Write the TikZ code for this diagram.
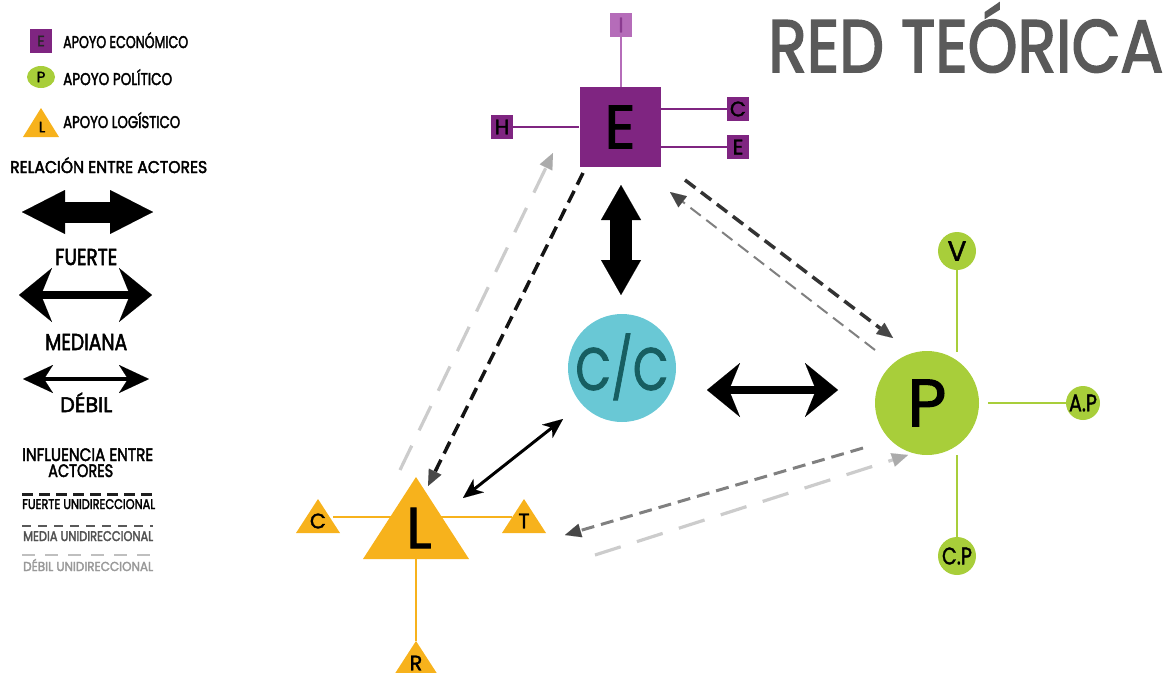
\documentclass[tikz,border=0pt]{standalone}
\usepackage{fontspec}
\usepackage{graphicx}
\setmainfont{Poppins}
\newfontfamily\wmed{Poppins}[FakeBold=1.6]
\newfontfamily\wheavy{Poppins}[FakeBold=2.6]
\usetikzlibrary{arrows.meta,shapes.geometric}

\definecolor{purE}{HTML}{7F2581}
\definecolor{purI}{HTML}{B56CB9}
\definecolor{purT}{HTML}{8A3B90}
\definecolor{cyanC}{HTML}{69C8D5}
\definecolor{tealC}{HTML}{175E61}
\definecolor{grnP}{HTML}{A8CE3A}
\definecolor{orgL}{HTML}{F7B21C}
\definecolor{titleg}{HTML}{5A5A5A}

\newcommand\fs[1]{\fontsize{#1}{#1}\selectfont}
\newcommand\fitw[2]{\resizebox{#1}{\height}{#2}}

\begin{document}
\begin{tikzpicture}[x=1pt,y=-1pt,
  txt/.style={inner sep=0pt, anchor=base west},
  bigsq/.style={fill=purE, minimum width=81pt, minimum height=80pt, inner sep=0pt},
  smsq/.style={fill=purE, minimum width=22pt, minimum height=24pt, inner sep=0pt, font=\wmed\fs{21}},
  smgc/.style={circle, fill=grnP, minimum size=36pt, inner sep=0pt},
  pline/.style={purE, line width=2.5pt},
  gline/.style={grnP, line width=2.5pt},
  oline/.style={orgL, line width=2.5pt},
  fuerte/.style={line width=#1, {Triangle[length=35pt,width=40pt,line width=0.01pt]}-{Triangle[length=35pt,width=40pt,line width=0.01pt]}},
  mediana/.style={line width=8pt, {Stealth[length=33pt,width=54pt,inset=11pt,line width=0.01pt]}-{Stealth[length=33pt,width=54pt,inset=11pt,line width=0.01pt]}},
  debilL/.style={line width=4pt, {Stealth[length=30pt,width=28pt,inset=9pt,line width=0.01pt]}-{Stealth[length=30pt,width=28pt,inset=9pt,line width=0.01pt]}},
  debil/.style={line width=3pt, {Stealth[length=20pt,width=17pt,inset=6pt,line width=0.01pt]}-{Stealth[length=20pt,width=17pt,inset=6pt,line width=0.01pt]}},
  strongd/.style={line width=3.5pt, dash pattern=on 13pt off 7pt, -{Triangle[length=16pt,width=14pt,line width=0.01pt,color=black!72]}},
  mediumd/.style={line width=#1, black!50, dash pattern=on 13pt off 7pt, -{Triangle[length=16pt,width=14pt,line width=0.01pt,color=black!72]}},
  weakd/.style={line width=3.2pt, black!20, dash pattern=on 27pt off 17pt, -{Triangle[length=16pt,width=14pt,line width=0.01pt,color=black!33]}},
  lgfont/.style={font=\wheavy\fs{#1}}
]
\useasboundingbox (0,0) rectangle (1167,672);

% ---------- title ----------
\node[txt, text=titleg, font=\wheavy\fs{74}] (title) at (768,72) {\fitw{395pt}{RED TEÓRICA}};

% ---------- legend: actors ----------
\node[smsq, minimum height=24pt, font=\wmed\fs{15}, text=black!85] (lgE) at (41,41) {E};
\node[txt, lgfont=17] (lgEt) at (63,48) {\fitw{125pt}{APOYO ECONÓMICO}};
\node[ellipse, fill=grnP, minimum width=28pt, minimum height=22pt, inner sep=0pt, font=\wmed\fs{15}] (lgP) at (41,77) {P};
\node[txt, lgfont=17] (lgPt) at (63,85) {\fitw{109pt}{APOYO POLÍTICO}};
\fill[orgL] (41,108) -- (59,137) -- (23,137) -- cycle;
\node[inner sep=0pt, font=\wmed\fs{15}] (lgL) at (42,127) {L};
\node[txt, lgfont=17] (lgLt) at (63,128) {\fitw{117pt}{APOYO LOGÍSTICO}};

% ---------- legend: relations ----------
\node[txt, lgfont=17] (relT) at (10,173) {\fitw{197pt}{RELACIÓN ENTRE ACTORES}};
\coordinate (f1) at (22,212);  \coordinate (f2) at (153,212);
\draw[line width=21pt, {Triangle[length=43pt,width=44pt,line width=0.01pt]}-{Triangle[length=43pt,width=44pt,line width=0.01pt]}] (f1) -- (f2);
\node[txt, lgfont=23] (fuT) at (55,265) {\fitw{62pt}{FUERTE}};
\coordinate (m1) at (19,295);  \coordinate (m2) at (152,295);
\draw[mediana] (m1) -- (m2);
\node[txt, lgfont=23] (meT) at (45,350) {\fitw{82pt}{MEDIANA}};
\coordinate (d1) at (23,379);  \coordinate (d2) at (149,379);
\draw[debilL] (d1) -- (d2);
\node[txt, lgfont=21] (deT) at (60,412) {\fitw{52pt}{DÉBIL}};

% ---------- legend: influences ----------
\node[txt, lgfont=18] (inT1) at (22,461) {\fitw{131pt}{INFLUENCIA ENTRE}};
\node[txt, lgfont=18] (inT2) at (48,477) {\fitw{65pt}{ACTORES}};
\coordinate (s1) at (22,494); \coordinate (s2) at (153,494);
\draw[line width=3pt, black!88, dash pattern=on 11pt off 6pt] (s1) -- (s2);
\node[txt, lgfont=14] (stT) at (22,509) {\fitw{133pt}{FUERTE UNIDIRECCIONAL}};
\coordinate (md1) at (22,526); \coordinate (md2) at (153,526);
\draw[line width=1.6pt, black!65, dash pattern=on 9pt off 7pt] (md1) -- (md2);
\node[txt, lgfont=14, text=black!68] (mdT) at (23,541) {\fitw{130pt}{MEDIA UNIDIRECCIONAL}};
\coordinate (w1) at (22,555); \coordinate (w2) at (153,555);
\draw[line width=1.6pt, black!25, dash pattern=on 13pt off 10pt] (w1) -- (w2);
\node[txt, lgfont=13, text=black!40] (wkT) at (23,571) {\fitw{130pt}{DÉBIL UNIDIRECCIONAL}};

% ---------- economic actor E ----------
\node[smsq, fill=purI, text=purT] (I) at (621,25) {I};
\node[smsq, text=black] (H) at (502,127) {H};
\node[smsq, text=black] (Ec) at (738,109) {C};
\node[smsq, text=black] (Ee) at (738,147) {E};
\node[bigsq, font=\wmed\fs{61}] (E) at (620,127) {E};
\draw[purI, line width=2.5pt] (I) -- (I |- E.north);
\draw[pline] (H) -- (H -| E.west);
\draw[pline] (Ec) -- (Ec -| E.east);
\draw[pline] (Ee) -- (Ee -| E.east);

% ---------- central actor C/C ----------
\node[circle, fill=cyanC, minimum size=108pt, inner sep=0pt] (CC) at (622,368) {};
\node[inner sep=0pt, anchor=base, text=tealC, font=\wmed\fs{60}] (CCt) at (622,390) {\fitw{93pt}{C/C}};

% ---------- political actor P ----------
\node[circle, fill=grnP, minimum size=104pt, inner sep=0pt, font=\wmed\fs{67}] (P) at (927,403) {P};
\node[smgc, minimum size=38pt, font=\wmed\fs{28}] (V) at (957,251) {V};
\node[smgc, minimum size=34pt, font=\wmed\fs{24}] (AP) at (1083,403) {\fitw{28pt}{A.P}};
\node[smgc, minimum size=38pt, font=\wmed\fs{24}] (CP) at (957,556) {\fitw{30pt}{C.P}};
\coordinate (Pt) at (957,352);
\coordinate (Pb) at (957,455);
\coordinate (Pr) at (988,403);
\draw[gline] (V) -- (Pt);
\draw[gline] (Pb) -- (CP);
\draw[gline] (Pr) -- (AP);

% ---------- logistic actor L ----------
\coordinate (Lw) at (333,517); \coordinate (Le) at (512,517);
\coordinate (Lb) at (416,559); \coordinate (Ls) at (416,641);
\draw[oline] (Lw) -- (Le);
\draw[oline] (Lb) -- (Ls);
\fill[orgL] (416,477) -- (469,559) -- (363,559) -- cycle;
\fill[orgL] (318,499) -- (340,533) -- (296,533) -- cycle;
\fill[orgL] (524,499) -- (546,533) -- (502,533) -- cycle;
\fill[orgL] (416,641) -- (438,675) -- (394,675) -- cycle;
\node[inner sep=0pt, font=\wmed\fs{58}] (L) at (419,528) {L};
\node[inner sep=0pt, font=\wmed\fs{21}] (Lc) at (318,521) {C};
\node[inner sep=0pt, font=\wmed\fs{21}] (Lt) at (524,521) {T};
\node[inner sep=0pt, font=\wmed\fs{21}] (Lr) at (416,663) {R};

% ---------- relations ----------
\coordinate (eR1) at (621,185); \coordinate (eR2) at (621,295);
\draw[fuerte=22pt] (eR1) -- (eR2);
\coordinate (cR1) at (707,390); \coordinate (cR2) at (838,390);
\draw[mediana] (cR1) -- (cR2);
\coordinate (lR1) at (463,498); \coordinate (lR2) at (563,419);
\draw[debil] (lR1) -- (lR2);

% ---------- influences ----------
\coordinate (eL1) at (583,173); \coordinate (eL2) at (428,486);
\draw[strongd, black!92] (eL1) -- (eL2);
\coordinate (lE1) at (400,470); \coordinate (lE2) at (553,153);
\draw[weakd] (lE1) -- (lE2);
\coordinate (eP1) at (685,180); \coordinate (eP2) at (893,338);
\draw[strongd, black!80] (eP1) -- (eP2);
\coordinate (pE1) at (875,350); \coordinate (pE2) at (670,192);
\draw[mediumd=2pt] (pE1) -- (pE2);
\coordinate (pL1) at (863,448); \coordinate (pL2) at (565,535);
\draw[mediumd=3pt] (pL1) -- (pL2);
\coordinate (lP1) at (595,555); \coordinate (lP2) at (908,455);
\draw[weakd] (lP1) -- (lP2);
\end{tikzpicture}
\end{document}
